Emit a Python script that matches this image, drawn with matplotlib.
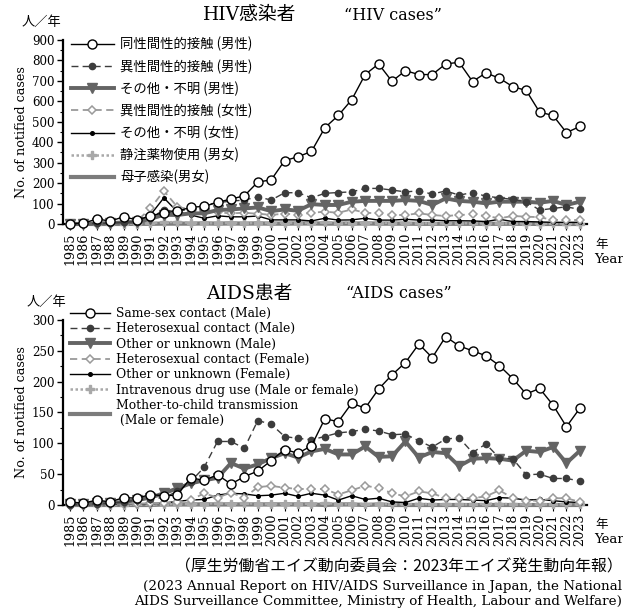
import numpy as np
import matplotlib
matplotlib.use("Agg")
import matplotlib.pyplot as plt
from matplotlib.ticker import MultipleLocator

SERIF = ["DejaVu Serif", "Noto Sans CJK JP"]
JP = ["Noto Sans CJK JP", "DejaVu Sans"]

years = list(range(1985, 2024))

# HIV感染者 (人/年)
hiv_msm = [2, 3, 25, 14, 35, 20, 40, 55, 62, 82, 86, 106, 122, 138, 205, 216, 310, 329, 355, 471,
           531, 608, 731, 783, 698, 750, 731, 731, 783, 791, 697, 739, 713, 672, 653, 547, 531, 447, 477]
hiv_hetero_m = [0, 0, 3, 4, 8, 12, 30, 68, 60, 76, 93, 104, 112, 117, 133, 117, 153, 153, 128, 150,
                154, 157, 174, 174, 166, 157, 162, 146, 162, 141, 154, 136, 128, 120, 109, 68, 76, 84, 71]
hiv_other_m = [0, 0, 3, 4, 8, 10, 25, 45, 44, 52, 52, 68, 71, 76, 81, 63, 71, 65, 97, 93,
               93, 109, 113, 113, 113, 117, 113, 93, 125, 113, 109, 101, 109, 109, 109, 104, 113, 93, 109]
hiv_hetero_f = [0, 0, 2, 3, 8, 15, 76, 162, 84, 71, 62, 57, 52, 55, 50, 45, 50, 46, 55, 60,
                55, 71, 55, 52, 44, 44, 52, 44, 39, 44, 47, 39, 28, 39, 36, 33, 20, 20, 19]
hiv_other_f = [0, 0, 2, 3, 5, 8, 44, 128, 60, 44, 28, 40, 35, 35, 39, 20, 20, 20, 15, 28,
               19, 20, 28, 19, 19, 23, 19, 19, 16, 16, 15, 12, 23, 12, 12, 10, 8, 8, 8]
hiv_idu = [0, 0, 1, 0, 2, 1, 3, 8, 10, 5, 3, 4, 5, 3, 5, 4, 6, 4, 5, 8,
           6, 6, 5, 6, 5, 4, 4, 3, 3, 4, 3, 2, 3, 3, 2, 2, 3, 2, 2]
hiv_mtct = [0, 0, 0, 0, 0, 1, 1, 2, 2, 2, 3, 2, 3, 2, 3, 2, 2, 3, 3, 2,
            2, 2, 3, 2, 2, 2, 1, 1, 1, 1, 1, 1, 1, 1, 1, 0, 0, 0, 0]

# AIDS患者 (人/年)
aids_msm = [5, 3, 8, 5, 12, 11, 17, 15, 16, 44, 40, 49, 34, 46, 55, 72, 90, 84, 96, 140,
            135, 165, 157, 188, 211, 231, 261, 239, 273, 258, 250, 242, 226, 205, 180, 189, 162, 127, 157]
aids_hetero_m = [0, 1, 2, 3, 5, 8, 10, 12, 22, 38, 61, 103, 103, 92, 137, 131, 111, 108, 106, 111,
                 117, 119, 123, 120, 114, 115, 104, 94, 107, 109, 85, 99, 76, 75, 49, 50, 43, 43, 39]
aids_other_m = [1, 2, 3, 3, 5, 8, 12, 19, 27, 35, 40, 44, 68, 59, 66, 76, 84, 77, 87, 91,
                82, 82, 95, 78, 79, 103, 77, 86, 84, 63, 75, 76, 75, 72, 88, 86, 94, 68, 88]
aids_hetero_f = [0, 0, 1, 1, 2, 2, 3, 3, 5, 8, 19, 12, 20, 12, 29, 31, 28, 26, 26, 26,
                 17, 24, 31, 28, 19, 14, 22, 19, 11, 11, 11, 14, 24, 11, 7, 7, 11, 11, 5]
aids_other_f = [0, 0, 1, 1, 1, 2, 2, 3, 6, 8, 9, 16, 19, 18, 15, 16, 19, 14, 19, 16,
                8, 15, 9, 11, 5, 4, 11, 8, 9, 9, 8, 7, 12, 11, 8, 9, 7, 5, 4]
aids_idu = [0, 0, 0, 0, 0, 1, 1, 1, 2, 1, 2, 3, 2, 3, 2, 1, 2, 2, 2, 3,
            2, 1, 2, 1, 2, 1, 2, 1, 1, 1, 1, 2, 2, 1, 1, 1, 1, 1, 1]
aids_mtct = [0, 0, 0, 0, 0, 0, 0, 1, 1, 1, 1, 1, 1, 1, 1, 1, 1, 1, 1, 0,
             1, 1, 0, 1, 0, 0, 0, 0, 0, 0, 0, 0, 0, 0, 0, 0, 0, 0, 0]

labels_jp = ["同性間性的接触 (男性)", "異性間性的接触 (男性)", "その他・不明 (男性)",
             "異性間性的接触 (女性)", "その他・不明 (女性)", "静注薬物使用 (男女)", "母子感染(男女)"]
labels_en = ["Same-sex contact (Male)", "Heterosexual contact (Male)", "Other or unknown (Male)",
             "Heterosexual contact (Female)", "Other or unknown (Female)",
             "Intravenous drug use (Male or female)", "Mother-to-child transmission\n (Male or female)"]

styles = [
    dict(color="black", lw=1.0, marker="o", ms=6.5, mfc="white", mec="black", mew=1.0, zorder=9),
    dict(color="#3c3c3c", lw=1.0, ls=(0, (5, 3)), marker="o", ms=4.5, mfc="#3c3c3c", mec="#3c3c3c", zorder=8),
    dict(color="#646464", lw=2.8, marker="v", ms=6.5, mfc="#646464", mec="#646464", zorder=7),
    dict(color="#9a9a9a", lw=1.3, ls=(0, (4, 2.5)), marker="D", ms=4, mfc="white", mec="#9a9a9a", mew=1.1, zorder=6),
    dict(color="black", lw=1.0, marker="o", ms=2.6, zorder=5),
    dict(color="#a8a8a8", lw=1.8, ls=(0, (1, 1)), marker="P", ms=5.5, mfc="#a8a8a8", mec="#a8a8a8", zorder=4),
    dict(color="#7c7c7c", lw=3.0, zorder=3),
]


def draw_panel(ax, series, labels, ymax, major, minor, leg_font, leg_spacing, leg_top):
    for vals, lab, st in zip(series, labels, styles):
        ax.plot(years, vals, label=lab, clip_on=False, **st)
    ax.set_xlim(1984.48, 2023.52)
    ax.set_ylim(0, ymax)
    ax.yaxis.set_major_locator(MultipleLocator(major))
    ax.yaxis.set_minor_locator(MultipleLocator(minor))
    ax.set_xticks(years)
    ax.set_xticklabels([str(y) for y in years], rotation=90, family=SERIF, fontsize=9.2)
    for t in ax.get_yticklabels():
        t.set_family(SERIF)
        t.set_fontsize(8.6)
    ax.spines[["top", "right"]].set_visible(False)
    ax.spines["left"].set_linewidth(1.6)
    ax.spines["bottom"].set_linewidth(1.6)
    ax.tick_params(axis="y", which="major", direction="out", length=4, width=1, pad=2)
    ax.tick_params(axis="y", which="minor", direction="out", length=2.5, width=0.8)
    ax.tick_params(axis="x", direction="out", length=4, width=0.8, pad=2)
    ax.set_ylabel("No. of notified cases", family=SERIF, fontsize=9.2, labelpad=3)
    leg = ax.legend(loc="upper left", bbox_to_anchor=(0.0, leg_top), frameon=False,
                    prop=leg_font, handlelength=3.2, handletextpad=0.5,
                    labelspacing=leg_spacing, borderaxespad=0.2)
    return leg


fig = plt.figure(figsize=(6.23, 6.08), dpi=100)
ax1 = fig.add_axes([0.101, 0.6316, 0.841, 0.3026])
ax2 = fig.add_axes([0.101, 0.1694, 0.841, 0.3043])

draw_panel(ax1, [hiv_msm, hiv_hetero_m, hiv_other_m, hiv_hetero_f, hiv_other_f, hiv_idu, hiv_mtct],
           labels_jp, 900, 100, 50, dict(family=JP, size=9.6), 0.57, 1.06)
draw_panel(ax2, [aids_msm, aids_hetero_m, aids_other_m, aids_hetero_f, aids_other_f, aids_idu, aids_mtct],
           labels_en, 300, 50, 25, dict(family=SERIF, size=8.9), 0.19, 1.11)

# titles and units
fig.text(0.40, 0.975, "HIV感染者", family=SERIF, fontsize=13.5, ha="center", va="center")
fig.text(0.63, 0.975, "“HIV cases”", family=SERIF, fontsize=11.5, ha="center", va="center")
fig.text(0.40, 0.517, "AIDS患者", family=SERIF, fontsize=13.5, ha="center", va="center")
fig.text(0.64, 0.517, "“AIDS cases”", family=SERIF, fontsize=11.5, ha="center", va="center")
fig.text(0.067, 0.963, "人／年", family=JP, fontsize=9.5, ha="center", va="center")
fig.text(0.074, 0.503, "人／年", family=JP, fontsize=9.5, ha="center", va="center")

for y0 in (0.598, 0.137):
    fig.text(0.966, y0, "年", family=JP, fontsize=9, ha="center", va="center")
    fig.text(0.953, y0 - 0.025, "Year", family=SERIF, fontsize=9.5, ha="left", va="center")

# source
fig.text(0.999, 0.068, "（厚生労働省エイズ動向委員会：2023年エイズ発生動向年報）",
         family=JP, fontsize=11.4, ha="right", va="center")
fig.text(0.998, 0.036, "(2023 Annual Report on HIV/AIDS Surveillance in Japan, the National",
         family=SERIF, fontsize=9.7, ha="right", va="center")
fig.text(0.998, 0.011, "AIDS Surveillance Committee, Ministry of Health, Labour and Welfare)",
         family=SERIF, fontsize=9.7, ha="right", va="center")

fig.savefig("out.png", dpi=100)
